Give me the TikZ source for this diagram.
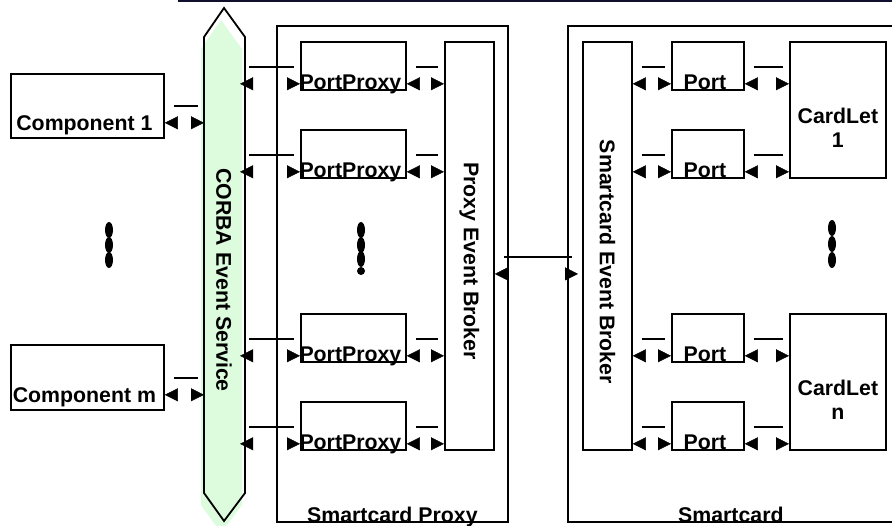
\documentclass[tikz,border=0pt]{standalone}
\usepackage{fontspec}
\setmainfont{Liberation Sans}
\usetikzlibrary{arrows.meta,calc,decorations.markings}
\definecolor{corbagreen}{HTML}{DDFBDD}
\definecolor{navy}{HTML}{10102E}

\begin{document}
\begin{tikzpicture}[x=1pt,y=-1pt,>={Triangle[length=13pt,width=13pt]},
 font=\fontsize{21.3}{24}\selectfont\bfseries,
 box/.style={draw,line width=1.8pt,inner sep=0pt,anchor=north west},
 vtxt/.style={rotate=-90,inner sep=0pt},
 lnk/.style={preaction={draw,line width=1.8pt,transform canvas={yshift=16.5pt},shorten <=9pt,shorten >=6pt},
   postaction={decorate,decoration={markings,mark=at position 0 with {\arrowreversed{>}},mark=at position 1 with {\arrow{>}}}}}]
\useasboundingbox (0,0) rectangle (892,526);
\draw[navy,line width=3pt] (178,1) -- (892,1);

% CORBA event channel
\fill[corbagreen] (221,20) -- (242,49) -- (242,505) -- (221,533) -- (201,505) -- (201,49) -- cycle;
\draw[line width=1.8pt] (224,8) -- (245,37) -- (245,493) -- (224,521) -- (204,493) -- (204,37) -- cycle;
\node[vtxt] (corba) at (224,280) {CORBA Event Service};
\coordinate (corbaW) at (204,0);
\coordinate (corbaE) at (240,0);

% components
\node[box,minimum width=153pt,minimum height=64pt,label={[anchor=base,xshift=-3pt,yshift=8pt]south:Component 1}] (c1) at (10,73) {};
\node[box,minimum width=153pt,minimum height=65pt,label={[anchor=base,xshift=-3pt,yshift=8pt]south:Component m}] (cm) at (10,344) {};

% containers
\node[box,minimum width=231pt,minimum height=496pt,label={[anchor=base]south:Smartcard Proxy}] (scp) at (276,25) {};
\node[box,minimum width=326pt,minimum height=496pt,label={[anchor=base]south:Smartcard}] (sc) at (567,25) {};

% proxy side
\foreach \i/\t in {1/41,2/129,3/313,4/401}{
  \node[box,minimum width=105pt,minimum height=48pt,label={[anchor=base,xshift=-3pt,yshift=1.5pt]south:PortProxy}] (pp\i) at (300,\t) {};
  \node[box,minimum width=72pt,minimum height=48pt,label={[anchor=base,xshift=-3pt,yshift=1.5pt]south:Port}] (pt\i) at (671,\t) {};
}
\node[box,minimum width=49pt,minimum height=408pt,label={[vtxt,xshift=15pt]center:Proxy Event Broker}] (peb) at (444,41) {};
\node[box,minimum width=49pt,minimum height=408pt,label={[vtxt,xshift=16pt]center:Smartcard Event Broker}] (seb) at (582,41) {};
\node[box,minimum width=96pt,minimum height=136pt,label={[align=center,yshift=-18pt]center:CardLet\\1}] (cl1) at (789,41) {};
\node[box,minimum width=96pt,minimum height=136pt,label={[align=center,yshift=-18pt]center:CardLet\\n}] (cln) at (789,313) {};

% links
\foreach \r in {c1,cm}
  \path[lnk] ($(\r.south east)+(0,-16)$) -- ($(\r.south east -| corbaW)+(0,-16)$);
\foreach \i in {1,...,4}{
  \path[lnk] ($(pp\i.south west -| corbaE)+(0,-7)$) -- ($(pp\i.south west)+(0,-7)$);
  \path[lnk] ($(pp\i.south east)+(0,-7)$) -- ($(pp\i.south east -| peb.west)+(0,-7)$);
  \path[lnk] ($(pt\i.south west -| seb.east)+(0,-7)$) -- ($(pt\i.south west)+(0,-7)$);
  \path[lnk] ($(pt\i.south east)+(0,-7)$) -- ($(pt\i.south east -| cl1.west)+(0,-7)$);
}
\path[lnk] ($(peb.east)+(0,28)$) -- ($(peb.east -| seb.west)+(-4,28)$);

% ellipsis marks
\foreach \x/\y in {109/230,109/245,109/260,361/230,361/245,361/259,832/228,832/244,832/260}
  \fill (\x,\y) ellipse [x radius=4,y radius=8];
\fill (361,271) circle [radius=4];
\end{tikzpicture}
\end{document}
